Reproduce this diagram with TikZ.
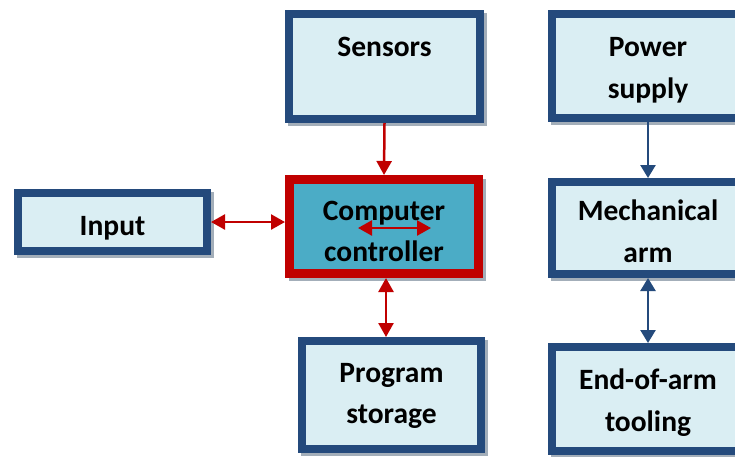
\documentclass[tikz,border=0pt]{standalone}
\usepackage{fontspec}
\setmainfont{Carlito}
\usetikzlibrary{arrows.meta,shadows,calc}
\definecolor{boxfill}{HTML}{DAEEF3}
\definecolor{boxline}{HTML}{244A7C}
\definecolor{ctrlfill}{HTML}{4BACC6}
\definecolor{redline}{HTML}{C00000}
\definecolor{shadowc}{HTML}{A3AEB9}
\begin{document}
\begin{tikzpicture}[x=1pt,y=-1pt,
  blk/.style={draw=boxline, fill=boxfill, line width=8pt, rectangle, inner sep=0pt,
    drop shadow={shadow xshift=3pt, shadow yshift=-3pt, fill=shadowc, draw=shadowc, line width=8pt, opacity=1}},
  ctrlblk/.style={blk, draw=redline, fill=ctrlfill, line width=9pt},
  txt/.style={align=center, inner sep=0pt, font=\fontsize{29.5}{41.5}\selectfont\bfseries},
  tip/.style={Triangle[length=14pt,width=15pt]},
  redarr/.style={draw=redline, line width=2.5pt, {Triangle[length=14pt,width=15pt]}-{Triangle[length=14pt,width=15pt]}},
  redone/.style={draw=redline, line width=2.5pt, -{Triangle[length=14pt,width=15pt]}},
  bluearr/.style={draw=boxline, line width=2.5pt, {Triangle[length=13pt,width=15pt]}-{Triangle[length=13pt,width=15pt]}},
  blueone/.style={draw=boxline, line width=2.5pt, -{Triangle[length=13pt,width=15pt]}}
]
\clip (0,0) rectangle (735,456);
\fill[white] (0,0) rectangle (735,456);

\node[blk, minimum width=191pt, minimum height=105pt] (sensors) at (384.5,66.5) {};
\node[blk, minimum width=192pt, minimum height=104pt] (power) at (648,66) {};
\node[blk, minimum width=189pt, minimum height=58pt] (input) at (112.5,222) {};
\node[ctrlblk, minimum width=189pt, minimum height=94pt] (ctrl) at (384,226.5) {};
\node[blk, minimum width=192pt, minimum height=92pt] (mech) at (648,228) {};
\node[blk, minimum width=179pt, minimum height=108pt] (prog) at (391.5,395) {};
\node[blk, minimum width=192pt, minimum height=104pt] (eoa) at (648,399) {};

\node[txt] (tsensors) at ($(sensors.center)+(0,-19.5)$) {Sensors};
\node[txt] (tpower) at ($(power.center)+(0,4)$) {Power\\supply};
\node[txt] (tinput) at ($(input.center)+(0,6)$) {Input};
\node[txt] (tctrl) at ($(ctrl.center)+(0,5)$) {Computer\\controller};
\node[txt] (tmech) at ($(mech.center)+(0,3.5)$) {Mechanical\\arm};
\node[txt] (tprog) at ($(prog.center)+(0,1)$) {Program\\storage};
\node[txt] (teoa) at ($(eoa.center)+(0,3.5)$) {End-of-arm\\tooling};

\coordinate (ia) at ($(ctrl.center)+(-26,1.5)$);
\coordinate (ib) at ($(ctrl.center)+(47,1.5)$);
\draw[redarr] (ia) -- (ib);

\draw[redone] (sensors.south) -- (ctrl.north);
\draw[redarr] (input.east) -- (input.east -| ctrl.west);
\draw[redarr] ($(ctrl.south)+(2,0)$) -- ($(ctrl.south |- prog.north)+(2,0)$);
\draw[blueone] (power.south) -- (mech.north);
\draw[bluearr] (mech.south) -- (eoa.north);
\end{tikzpicture}
\end{document}
